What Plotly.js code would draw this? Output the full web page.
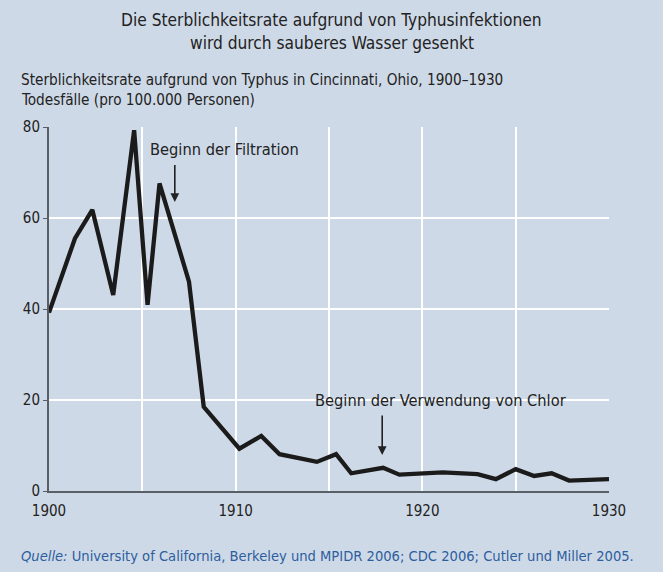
<!DOCTYPE html>
<html>
<head>
<meta charset="utf-8">
<script src="https://cdn.plot.ly/plotly-3.0.1.min.js"></script>
<style>html,body{margin:0;padding:0;background:#ced9e7;}</style>
</head>
<body>
<div id="chart" style="width:663px;height:572px;"></div>
<script>
// Data
const years = [1900, 1901.39, 1902.32, 1903.44, 1904.56, 1905.28, 1905.92, 1907.5, 1908.29, 1910.2, 1911.37, 1912.35, 1914.35, 1915.38, 1916.19, 1917.9, 1918.77, 1921.09, 1922.96, 1923.94, 1925.0, 1925.99, 1926.93, 1927.86, 1930];
const deathRates = [39.2, 55.5, 61.8, 43.1, 79.3, 40.9, 67.6, 46.0, 18.5, 9.3, 12.1, 8.1, 6.4, 8.1, 3.9, 5.1, 3.6, 4.1, 3.7, 2.6, 4.8, 3.3, 3.9, 2.3, 2.6];
const xTickVals = [1900, 1905, 1910, 1915, 1920, 1925, 1930];
const xTickText = ['1900', '', '1910', '', '1920', '', '1930'];
const yTickVals = [0, 20, 40, 60, 80];

const titleLine1 = 'Die Sterblichkeitsrate aufgrund von Typhusinfektionen';
const titleLine2 = 'wird durch sauberes Wasser gesenkt';
const subtitle1 = 'Sterblichkeitsrate aufgrund von Typhus in Cincinnati, Ohio, 1900–1930';
const subtitle2 = 'Todesfälle (pro 100.000 Personen)';
const sourceText = '<i>Quelle:</i> University of California, Berkeley und MPIDR 2006; CDC 2006; Cutler und Miller 2005.';
const note1 = {text: 'Beginn der Filtration', year: 1906.74, labelYear: 1909.4, labelY: 75, tipY: 63.5, tailY: 72};
const note2 = {text: 'Beginn der Verwendung von Chlor', year: 1917.85, labelYear: 1921.0, labelY: 19.8, tipY: 7.9, tailY: 16.9};

const FONT = '"Liberation Sans Narrow", "DejaVu Sans Condensed", Arial, sans-serif';
const BG = '#ced9e7';
const TXT = '#222222';

const trace = {
  x: years, y: deathRates, type: 'scatter', mode: 'lines',
  line: {color: '#1b1b1b', width: 4.3},
  hoverinfo: 'skip'
};

function arrow(n) {
  return {x: n.year, y: n.tipY, xref: 'x', yref: 'y', ax: n.year, ay: n.tailY, axref: 'x', ayref: 'y',
    text: '', showarrow: true, arrowhead: 2, arrowsize: 1.1, arrowwidth: 1.6, arrowcolor: TXT};
}
function label(n) {
  return {x: n.labelYear, y: n.labelY, xref: 'x', yref: 'y', text: n.text, showarrow: false,
    xanchor: 'center', yanchor: 'middle', font: {family: FONT, size: 16.3, color: TXT}};
}
function paperText(text, x, y, xanchor, size, color) {
  return {xref: 'paper', yref: 'paper', x: x, y: y, xanchor: xanchor, yanchor: 'middle', showarrow: false,
    text: text, font: {family: FONT, size: size, color: color}};
}

const layout = {
  width: 663, height: 572,
  margin: {l: 49, r: 54, t: 127, b: 81},
  paper_bgcolor: BG, plot_bgcolor: BG,
  showlegend: false,
  font: {family: FONT, color: TXT},
  xaxis: {
    range: [1900, 1930], tickvals: xTickVals, ticktext: xTickText,
    showgrid: true, gridcolor: '#ffffff', gridwidth: 2,
    showline: true, linecolor: '#5a5f66', linewidth: 2,
    ticks: '', ticklabelstandoff: 5, tickfont: {family: FONT, size: 15, color: TXT},
    zeroline: false, fixedrange: true
  },
  yaxis: {
    range: [0, 80], tickvals: yTickVals,
    showgrid: true, gridcolor: '#ffffff', gridwidth: 2,
    showline: true, linecolor: '#5a5f66', linewidth: 2,
    ticks: 'outside', ticklen: 4, tickcolor: '#5a5f66', tickwidth: 1,
    tickfont: {family: FONT, size: 15, color: TXT},
    zeroline: false, fixedrange: true
  },
  annotations: [
    paperText(titleLine1, 0.5045, 1.294, 'center', 17.2, TXT),
    paperText(titleLine2, 0.5045, 1.231, 'center', 17.2, TXT),
    paperText(subtitle1, -0.0535, 1.129, 'left', 15.2, TXT),
    paperText(subtitle2, -0.0535, 1.074, 'left', 15.2, TXT),
    paperText(sourceText, -0.0535, -0.176, 'left', 14.6, '#2d5e9e'),
    label(note1),
    arrow(note1),
    label(note2),
    arrow(note2)
  ]
};

Plotly.newPlot('chart', [trace], layout, {displayModeBar: false, staticPlot: true});
</script>
</body>
</html>
